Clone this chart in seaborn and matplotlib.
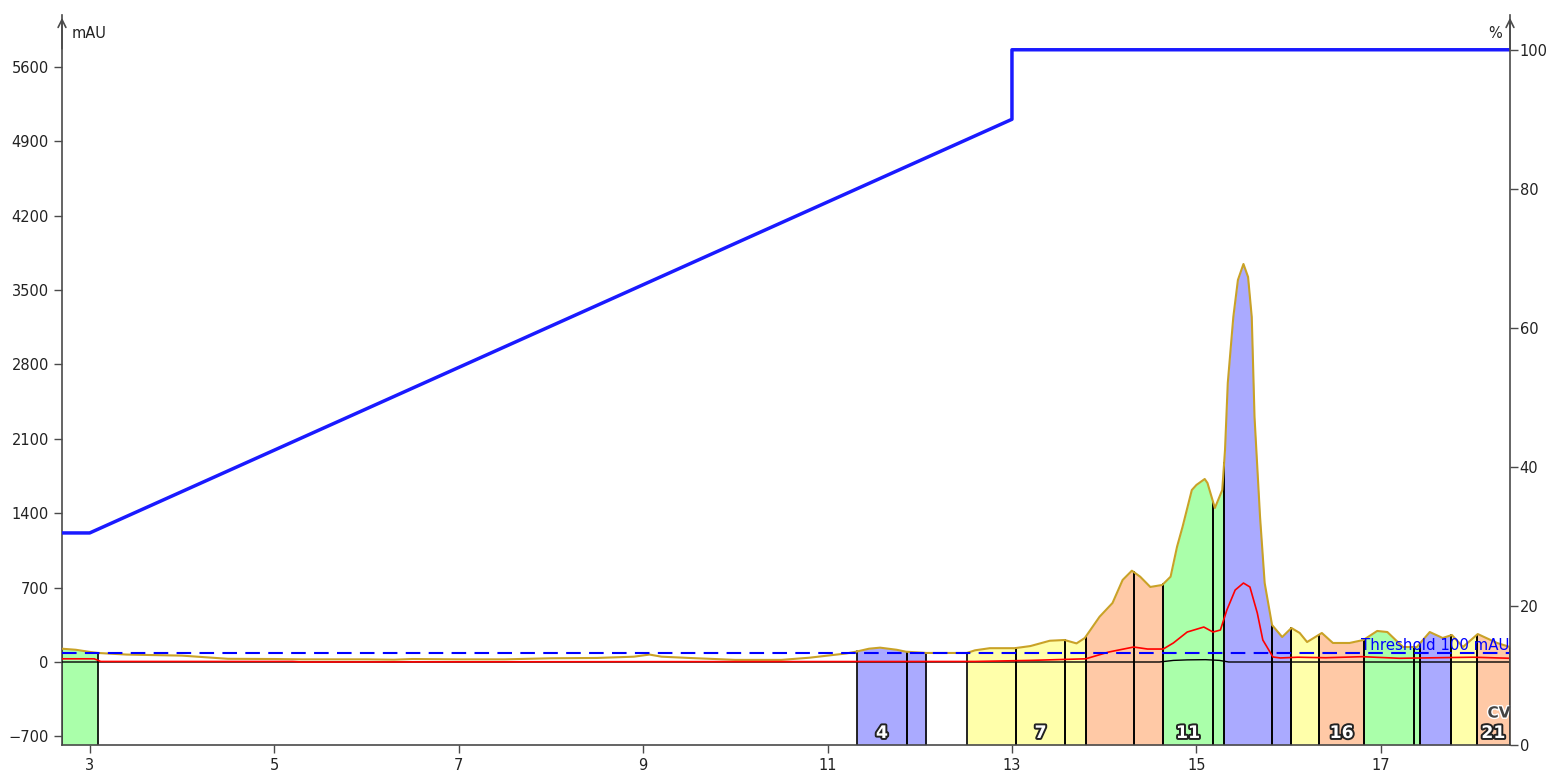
import numpy as np
import pandas as pd
import seaborn as sns
import matplotlib
matplotlib.use("Agg")
from matplotlib import pyplot as plt
from matplotlib import patheffects as pe

# UV trace, mAU against column volumes
uv_cv = [2.70, 2.85, 3.00, 3.09, 3.40, 4.00, 4.50, 5.00, 5.30, 6.00,
         6.30, 6.50, 7.00, 7.50, 8.00, 8.50, 8.90, 9.07, 9.20, 9.50,
         10.00, 10.50, 10.80, 11.00, 11.20, 11.31, 11.45, 11.57, 11.75, 11.85,
         12.07, 12.51, 12.60, 12.76, 13.03, 13.20, 13.41, 13.57, 13.70, 13.79,
         13.95, 14.09, 14.20, 14.30, 14.39, 14.50, 14.63, 14.72, 14.79, 14.85,
         14.95, 15.00, 15.09, 15.12, 15.20, 15.28, 15.31, 15.34, 15.40, 15.45,
         15.51, 15.56, 15.60, 15.63, 15.69, 15.74, 15.82, 15.93, 16.03, 16.12,
         16.20, 16.36, 16.48, 16.66, 16.81, 16.96, 17.07, 17.24, 17.39, 17.53,
         17.67, 17.77, 17.89, 18.05, 18.26, 18.40]
uv_mau = [125, 115, 95, 85, 70, 60, 30, 28, 25, 25,
          22, 28, 25, 25, 35, 38, 50, 70, 50, 38,
          20, 20, 40, 60, 80, 97, 125, 135, 115, 97,
          85, 85, 110, 130, 130, 150, 200, 207, 175, 226,
          426, 555, 772, 859, 803, 706, 725, 803, 1085, 1273,
          1618, 1666, 1722, 1684, 1449, 1618, 1995, 2625, 3246, 3595,
          3745, 3623, 3246, 2305, 1364, 743, 348, 235, 320, 273,
          188, 273, 179, 179, 207, 292, 282, 141, 141, 282,
          226, 254, 141, 263, 179, 141]

# second wavelength (red)
red_cv = [2.70, 3.05, 3.12, 5.20, 5.30, 8.80, 12.60, 13.20, 13.80, 14.05,
          14.32, 14.47, 14.64, 14.75, 14.90, 15.08, 15.18, 15.26, 15.33, 15.42,
          15.51, 15.58, 15.66, 15.72, 15.83, 15.91, 16.10, 16.40, 16.80, 17.20,
          17.60, 18.00, 18.40]
red_mau = [30, 30, 5, 5, 0, 3, 5, 15, 30, 94,
           141, 122, 122, 179, 282, 329, 282, 301, 489, 677,
           743, 706, 461, 207, 47, 38, 45, 40, 50, 35,
           40, 45, 35]

# black trace
blk_cv = [2.70, 14.60, 14.75, 14.90, 15.10, 15.25, 15.35, 18.40]
blk_mau = [0, 0, 15, 20, 22, 15, 0, 0]

# gradient, % B (right axis)
grad_cv = [2.70, 3.00, 13.00, 13.00, 18.40]
grad_pct = [30.5, 30.5, 90.0, 100.0, 100.0]

threshold = 80

# fractions
frac_num = [1, 4, 5, 6, 7, 8, 9, 10, 11, 12, 13, 14, 15, 16, 17, 18, 19, 20, 21]
frac_start = [2.70, 11.32, 11.86, 12.515, 13.04, 13.58, 13.80, 14.32, 14.64, 15.18,
              15.30, 15.82, 16.03, 16.33, 16.82, 17.36, 17.42, 17.76, 18.04]
frac_end = [3.09, 11.86, 12.07, 13.04, 13.58, 13.80, 14.32, 14.64, 15.18, 15.30,
            15.82, 16.03, 16.33, 16.82, 17.36, 17.42, 17.76, 18.04, 18.40]
frac_color = ["green", "blue", "blue", "yellow", "yellow", "yellow", "orange", "orange",
              "green", "green", "blue", "blue", "yellow", "orange", "green", "green",
              "blue", "yellow", "orange"]
labelled = [4, 7, 11, 16, 21]

palette = {"green": "#aaffaa", "blue": "#aaaaff", "yellow": "#ffffaa", "orange": "#ffc9a6"}

mau_ticks = [-700, 0, 700, 1400, 2100, 2800, 3500, 4200, 4900, 5600]
pct_ticks = [0, 20, 40, 60, 80, 100]
cv_ticks = [3, 5, 7, 9, 11, 13, 15, 17]

sns.set_theme(style="white")
plt.rcParams["font.family"] = ["DejaVu Sans"]

W, H = 1557, 777
fig = plt.figure(figsize=(W / 100, H / 100), dpi=100)
ax = fig.add_axes([62 / W, 1 - 745 / H, (1510 - 62) / W, (745 - 15) / H])
ymin, ymax = -781, 6088
ax.set_xlim(2.70, 18.40)
ax.set_ylim(ymin, ymax)

uv = pd.DataFrame({"cv": uv_cv, "mau": uv_mau})

# fraction fills and boundaries
for n, s, e, c in zip(frac_num, frac_start, frac_end, frac_color):
    xs = [s] + [v for v in uv_cv if s < v < e] + [e]
    ys = np.interp(xs, uv_cv, uv_mau)
    ax.fill_between(xs, ymin, ys, color=palette[c], lw=0, zorder=1)
    for b in (s, e):
        ax.plot([b, b], [ymin, np.interp(b, uv_cv, uv_mau)], color="black", lw=1.2, zorder=2)
    if n in labelled:
        ax.text((s + e) / 2, -668, str(n), ha="center", va="center", fontsize=12.5,
                fontweight="bold", color="white", zorder=6,
                path_effects=[pe.withStroke(linewidth=2.8, foreground="#222222")])

sns.lineplot(data=uv, x="cv", y="mau", ax=ax, color="#c9a227", lw=1.5, zorder=4)
sns.lineplot(x=red_cv, y=red_mau, ax=ax, color="#ff0000", lw=1.2, zorder=4)
sns.lineplot(x=blk_cv, y=blk_mau, ax=ax, color="black", lw=1.0, zorder=3)
ax.axhline(threshold, color="#0000ff", lw=1.5, dashes=(7, 4), zorder=5)
ax.text(18.39, threshold, "Threshold 100 mAU", ha="right", va="bottom",
        color="#0000ff", fontsize=10.8, zorder=6)

ax.set_yticks(mau_ticks)
ax.set_xticks(cv_ticks)
ax.set_xlabel("")
ax.set_ylabel("")

ax2 = ax.twinx()
ax2.set_ylim(0, 105.0)
sns.lineplot(x=grad_cv, y=grad_pct, ax=ax2, color="#1a1aff", lw=2.5,
             estimator=None, sort=False)
ax2.set_yticks(pct_ticks)
ax2.set_ylabel("")

spine_c = "#4a4a4a"
for a in (ax, ax2):
    for side in a.spines:
        a.spines[side].set_visible(False)
ax.spines["left"].set_visible(True)
ax.spines["bottom"].set_visible(True)
ax2.spines["right"].set_visible(True)
for sp in (ax.spines["left"], ax.spines["bottom"], ax2.spines["right"]):
    sp.set_color(spine_c)
    sp.set_linewidth(1.2)

ax.tick_params(axis="both", which="both", bottom=True, left=True, direction="out",
               length=6, width=1, color=spine_c, labelsize=10.5, labelcolor="#222222")
ax2.tick_params(axis="y", right=True, direction="out", length=6, width=1,
                color=spine_c, labelsize=10.5, labelcolor="#222222", pad=1)

# axis arrows
arrow = dict(arrowstyle="->", color=spine_c, lw=1.2, mutation_scale=14)
ax.annotate("", xy=(0, 1.0), xycoords="axes fraction", xytext=(0, 0.95),
            arrowprops=arrow, annotation_clip=False)
ax.annotate("", xy=(1, 1.0), xycoords="axes fraction", xytext=(1, 0.95),
            arrowprops=arrow, annotation_clip=False)

fig.text(72 / W, 1 - 33 / H, "mAU", ha="left", va="center", fontsize=10.5, color="#222222")
fig.text(1502 / W, 1 - 33 / H, "%", ha="right", va="center", fontsize=10.5, color="#222222")
ax.text(18.28, -480, "CV", ha="center", va="center", fontsize=11, fontweight="bold",
        color="#444444", zorder=7,
        path_effects=[pe.withStroke(linewidth=2, foreground="white")])

fig.savefig("out.png", dpi=100)
